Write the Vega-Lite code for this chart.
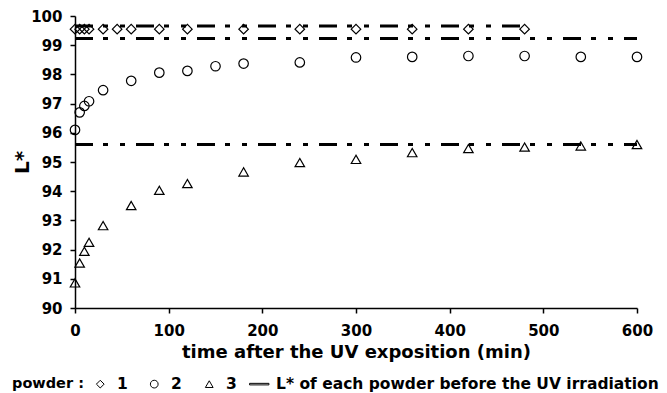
{
  "$schema": "https://vega.github.io/schema/vega-lite/v6.json",
  "autosize": {"type": "none"},
  "width": 562,
  "height": 292,
  "padding": {"left": 75, "top": 16, "right": 30, "bottom": 85},
  "background": "white",
  "config": {
    "view": {"stroke": null},
    "font": "DejaVu Sans",
    "axis": {
      "labelFont": "DejaVu Sans", "labelFontWeight": "bold", "labelFontSize": 15, "labelColor": "black",
      "titleFont": "DejaVu Sans", "titleFontWeight": "bold", "titleColor": "black",
      "domainColor": "black", "domainWidth": 1.5, "tickColor": "black", "tickWidth": 1.5, "tickSize": 5,
      "grid": false, "labelOverlap": false, "labelFlush": false
    },
    "legend": {
      "labelFont": "DejaVu Sans", "labelFontWeight": "bold", "labelFontSize": 15.5, "labelColor": "black",
      "titleFont": "DejaVu Sans", "titleFontWeight": "bold", "titleFontSize": 14.5, "titleColor": "black"
    }
  },
  "datasets": {
    "points": [
      {"t": 0, "L": 99.55, "powder": "1"}, {"t": 5, "L": 99.55, "powder": "1"}, {"t": 10, "L": 99.55, "powder": "1"},
      {"t": 15, "L": 99.55, "powder": "1"}, {"t": 30, "L": 99.55, "powder": "1"}, {"t": 45, "L": 99.55, "powder": "1"},
      {"t": 60, "L": 99.55, "powder": "1"}, {"t": 90, "L": 99.55, "powder": "1"}, {"t": 120, "L": 99.55, "powder": "1"},
      {"t": 180, "L": 99.55, "powder": "1"}, {"t": 240, "L": 99.55, "powder": "1"}, {"t": 300, "L": 99.55, "powder": "1"},
      {"t": 360, "L": 99.55, "powder": "1"}, {"t": 420, "L": 99.55, "powder": "1"}, {"t": 480, "L": 99.55, "powder": "1"},
      {"t": 0, "L": 96.1, "powder": "2"}, {"t": 5, "L": 96.7, "powder": "2"}, {"t": 10, "L": 96.92, "powder": "2"},
      {"t": 15, "L": 97.08, "powder": "2"}, {"t": 30, "L": 97.46, "powder": "2"}, {"t": 60, "L": 97.78, "powder": "2"},
      {"t": 90, "L": 98.06, "powder": "2"}, {"t": 120, "L": 98.12, "powder": "2"}, {"t": 150, "L": 98.28, "powder": "2"},
      {"t": 180, "L": 98.37, "powder": "2"}, {"t": 240, "L": 98.41, "powder": "2"}, {"t": 300, "L": 98.58, "powder": "2"},
      {"t": 360, "L": 98.6, "powder": "2"}, {"t": 420, "L": 98.63, "powder": "2"}, {"t": 480, "L": 98.63, "powder": "2"},
      {"t": 540, "L": 98.6, "powder": "2"}, {"t": 600, "L": 98.6, "powder": "2"},
      {"t": 0, "L": 90.86, "powder": "3"}, {"t": 5, "L": 91.54, "powder": "3"}, {"t": 10, "L": 91.94, "powder": "3"},
      {"t": 15, "L": 92.25, "powder": "3"}, {"t": 30, "L": 92.82, "powder": "3"}, {"t": 60, "L": 93.51, "powder": "3"},
      {"t": 90, "L": 94.03, "powder": "3"}, {"t": 120, "L": 94.26, "powder": "3"}, {"t": 180, "L": 94.66, "powder": "3"},
      {"t": 240, "L": 94.98, "powder": "3"}, {"t": 300, "L": 95.09, "powder": "3"}, {"t": 360, "L": 95.32, "powder": "3"},
      {"t": 420, "L": 95.46, "powder": "3"}, {"t": 480, "L": 95.51, "powder": "3"}, {"t": 540, "L": 95.55, "powder": "3"},
      {"t": 600, "L": 95.6, "powder": "3"}
    ],
    "refs": [
      {"powder": "1", "level": 99.66, "t0": 0, "t1": 480},
      {"powder": "2", "level": 99.23, "t0": 0, "t1": 600},
      {"powder": "3", "level": 95.6, "t0": 0, "t1": 600}
    ]
  },
  "layer": [
    {
      "data": {"name": "refs"},
      "mark": {"type": "rule", "color": "black", "strokeWidth": 3, "strokeDash": [18, 10, 5, 12, 5, 11], "strokeCap": "butt"},
      "encoding": {
        "x": {
          "field": "t0", "type": "quantitative", "scale": {"domain": [0, 600], "nice": false},
          "axis": {"values": [0, 100, 200, 300, 400, 500, 600], "title": "time after the UV exposition (min)", "titleFontSize": 18, "labelPadding": 10, "titlePadding": 5}
        },
        "x2": {"field": "t1"},
        "y": {
          "field": "level", "type": "quantitative", "scale": {"domain": [90, 100], "nice": false},
          "axis": {"values": [90, 91, 92, 93, 94, 95, 96, 97, 98, 99, 100], "labelOverlap": false, "title": "L*", "titleFontSize": 20, "labelPadding": 8, "titleX": -53, "titleBaseline": "middle"}
        }
      }
    },
    {
      "data": {"name": "points"},
      "mark": {"type": "point", "filled": false, "color": "black", "strokeWidth": 1.2, "opacity": 1, "size": 90},
      "encoding": {
        "x": {
          "field": "t", "type": "quantitative",
          "scale": {"domain": [0, 600], "nice": false},
          "axis": {"values": [0, 100, 200, 300, 400, 500, 600], "title": "time after the UV exposition (min)", "titleFontSize": 18, "labelPadding": 10, "titlePadding": 5}
        },
        "y": {
          "field": "L", "type": "quantitative",
          "scale": {"domain": [90, 100], "nice": false},
          "axis": {"values": [90, 91, 92, 93, 94, 95, 96, 97, 98, 99, 100], "labelOverlap": false, "title": "L*", "titleFontSize": 20, "labelPadding": 8, "titleX": -53, "titleBaseline": "middle"}
        },
        "shape": {
          "field": "powder", "type": "nominal",
          "scale": {
            "domain": ["1", "2", "3", "L* of each powder before the UV irradiation"],
            "range": [
              "M-3.4,0M-1,0L0,-1L1,0L0,1Z",
              "M-3.4,0M-1,0A1,1,0,1,1,1,0A1,1,0,1,1,-1,0Z",
              "M-3.6,0M0,-0.866L-1,0.866L1,0.866Z",
              "M-2.5,-0.2L2.5,-0.2L2.5,0.2L-2.5,0.2Z"
            ]
          },
          "legend": {
            "orient": "none", "legendX": -63, "legendY": 360, "direction": "horizontal",
            "title": "powder :", "titleOrient": "left", "titlePadding": 8.5,
            "columnPadding": 10, "labelOffset": 9, "labelLimit": 600,
            "symbolStrokeColor": "black", "symbolFillColor": "black", "symbolSize": 60, "symbolStrokeWidth": 1,
            "encode": {
              "symbols": {"update": {
                "fill": {"signal": "datum.value === 'L* of each powder before the UV irradiation' ? 'black' : 'transparent'"}
              }}
            }
          }
        }
      }
    }
  ]
}
